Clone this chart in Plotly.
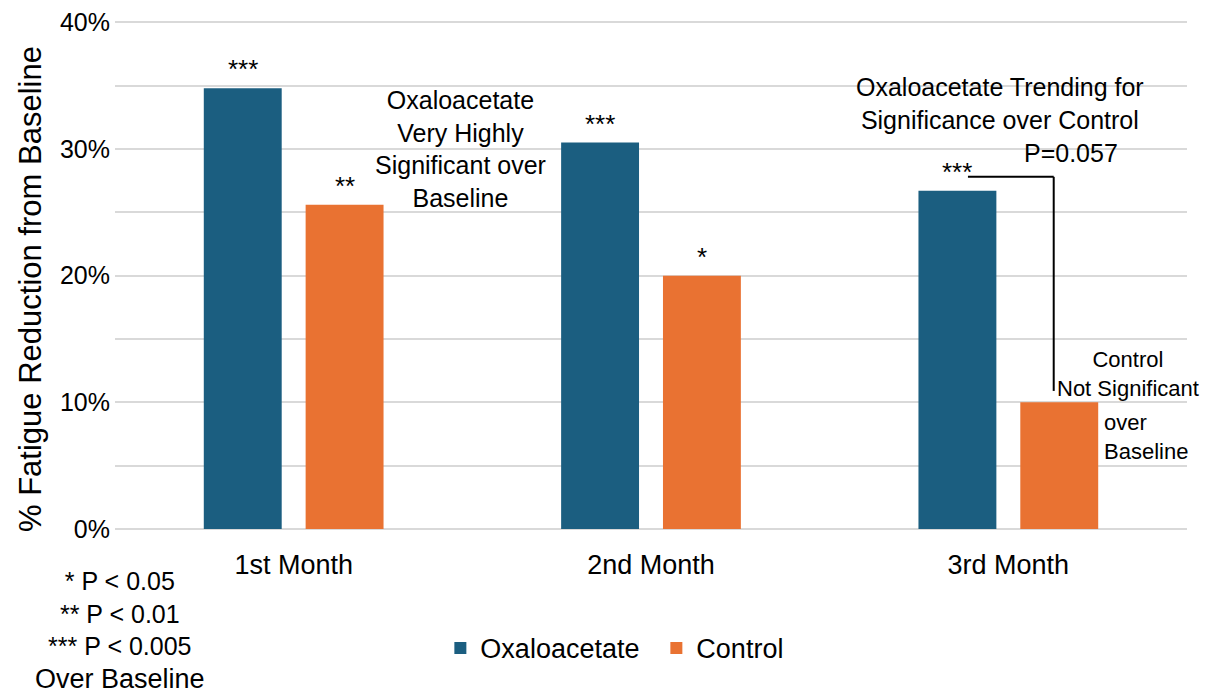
import plotly.graph_objects as go

months = ["1st Month", "2nd Month", "3rd Month"]
oxaloacetate = [34.8, 30.5, 26.7]
control = [25.6, 20.0, 10.0]
oxa_stars = ["***", "***", "***"]
ctrl_stars = ["**", "*", ""]
y_ticks = [0, 5, 10, 15, 20, 25, 30, 35, 40]
y_ticktext = ["0%", "", "10%", "", "20%", "", "30%", "", "40%"]

BLUE = "#1b5e80"
ORANGE = "#e97232"
FONT = "Liberation Sans, Arial, sans-serif"

fig = go.Figure()
fig.add_trace(go.Bar(x=months, y=oxaloacetate, name="Oxaloacetate",
                     marker=dict(color=BLUE, line=dict(width=0))))
fig.add_trace(go.Bar(x=months, y=control, name="Control",
                     marker=dict(color=ORANGE, line=dict(width=0))))

annotations = []
for i, (v, s) in enumerate(zip(oxaloacetate, oxa_stars)):
    if s:
        annotations.append(dict(x=i, y=v, text=s, xref="x", yref="y", xshift=-51,
                                yshift=2, yanchor="bottom", showarrow=False,
                                font=dict(size=26, color="black", family=FONT)))
for i, (v, s) in enumerate(zip(control, ctrl_stars)):
    if s:
        annotations.append(dict(x=i, y=v, text=s, xref="x", yref="y", xshift=51,
                                yshift=2, yanchor="bottom", showarrow=False,
                                font=dict(size=26, color="black", family=FONT)))

txt_font = dict(size=25, color="black", family=FONT)
small_font = dict(size=22, color="black", family=FONT)
annotations += [
    dict(x=0.466, y=30.0, xref="x", yref="y", showarrow=False, align="center",
         text="Oxaloacetate<br>Very Highly<br>Significant over<br>Baseline", font=txt_font),
    dict(x=1.976, y=33.6, xref="x", yref="y", showarrow=False, align="center",
         text="Oxaloacetate Trending for<br>Significance over Control", font=txt_font),
    dict(x=2.175, y=29.7, xref="x", yref="y", showarrow=False, align="center",
         text="P=0.057", font=txt_font),
    dict(x=2.335, y=12.2, xref="x", yref="y", showarrow=False, align="center",
         text="Control<br>Not Significant", font=small_font),
    dict(x=2.262, y=7.3, xref="x", yref="y", showarrow=False, align="left",
         xanchor="left", text="over<br>Baseline", font=small_font),
    dict(x=0.005, y=-0.071, xref="paper", yref="paper", showarrow=False,
         align="center", xanchor="center", yanchor="top",
         text="* P < 0.05<br>** P < 0.01<br>*** P < 0.005<br><span style='font-size:27px'>Over Baseline</span>",
         font=dict(size=25, color="black", family=FONT)),
    dict(x=-0.079, y=0.473, xref="paper", yref="paper", showarrow=False,
         textangle=-90, xanchor="center", yanchor="middle",
         text="% Fatigue Reduction from Baseline",
         font=dict(size=31, color="black", family=FONT)),
]

# bracket between 3rd month Oxaloacetate and Control
top_y = oxaloacetate[2] + 1.1
bot_y = control[2] + 0.9
shapes = [
    dict(type="line", xref="x", yref="y", x0=1.887, x1=2.127, y0=top_y, y1=top_y,
         line=dict(color="black", width=2)),
    dict(type="line", xref="x", yref="y", x0=2.127, x1=2.127, y0=top_y, y1=bot_y,
         line=dict(color="black", width=2)),
]

fig.update_layout(
    width=1201, height=684,
    margin=dict(l=107, r=22, t=13, b=163, autoexpand=False),
    paper_bgcolor="white", plot_bgcolor="white",
    barmode="group", bargap=0.43, bargroupgap=0.235,
    font=dict(family=FONT, color="black"),
    showlegend=True,
    legend=dict(orientation="h", x=0.505, y=-0.235, xanchor="center", yanchor="middle",
                font=dict(size=27, color="black", family=FONT), itemwidth=30,
                entrywidth=171, entrywidthmode="pixels",
                traceorder="normal"),
    annotations=annotations,
    shapes=shapes,
)
fig.update_xaxes(range=[-0.5, 2.5], showgrid=False, showline=False, ticks="",
                 automargin=False, ticklabelstandoff=17,
                 tickfont=dict(size=27, color="black"))
fig.update_yaxes(range=[0, 40.1], tickvals=y_ticks, ticktext=y_ticktext, automargin=False,
                 showgrid=True, gridcolor="#d9d9d9", gridwidth=2,
                 zeroline=True, zerolinecolor="#d9d9d9", zerolinewidth=2,
                 showline=False, ticks="", ticklabelstandoff=4,
                 ticklabeloverflow="allow",
                 tickfont=dict(size=25, color="black"))

fig.write_html("out.html")
